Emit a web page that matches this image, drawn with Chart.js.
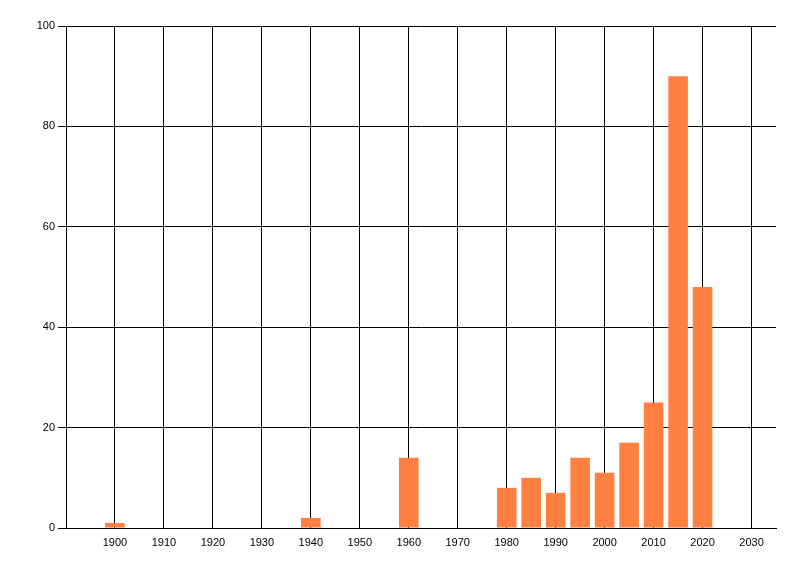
<!DOCTYPE html>
<html>
<head>
<meta charset="utf-8">
<script src="https://cdn.jsdelivr.net/npm/chart.js@4"></script>
<style>
  html, body { margin: 0; padding: 0; background: #fff; }
  #wrap { width: 800px; height: 576px; }
</style>
</head>
<body>
<div id="wrap"><canvas id="barChart"></canvas></div>
<script>
// years (bar centres) and their values
const years = [1900, 1940, 1960, 1980, 1985, 1990, 1995, 2000, 2005, 2010, 2015, 2020];
const counts = [1, 2, 14, 8, 10, 7, 14, 11, 17, 25, 90, 48];

// axis ticks
const xTicks = [1900, 1910, 1920, 1930, 1940, 1950, 1960, 1970, 1980, 1990, 2000, 2010, 2020, 2030];
const yTicks = [0, 20, 40, 60, 80, 100];

const barColor = "rgb(255, 128, 64)";
const tickFont = { family: "'Liberation Sans', Arial, sans-serif", size: 11 };

const ctx = document.getElementById("barChart").getContext("2d");

const config = {
    type: "bar",
    data: {
        datasets: [
            {
                data: years.map((y, i) => ({ x: y, y: counts[i] })),
                backgroundColor: barColor,
                borderWidth: 0,
                categoryPercentage: 1,
                barPercentage: 0.8,
            },
        ],
    },
    options: {
        responsive: true,
        maintainAspectRatio: false,
        animation: false,
        layout: { padding: { top: 26, right: 24, left: 0, bottom: 0 } },
        plugins: {
            legend: { display: false },
            tooltip: { enabled: false },
        },
        scales: {
            x: {
                type: "linear",
                min: 1890,
                max: 2035,
                offset: false,
                afterBuildTicks: (scale) => {
                    scale.ticks = xTicks.map((v) => ({ value: v }));
                },
                afterFit: (scale) => {
                    scale.height = 48;
                },
                grid: { color: "#000", lineWidth: 1, drawTicks: false, offset: false },
                border: { color: "#000", width: 1 },
                ticks: {
                    color: "#000",
                    padding: 8,
                    maxRotation: 0,
                    autoSkip: false,
                    font: tickFont,
                    callback: (v) => String(v),
                },
            },
            y: {
                min: 0,
                max: 100,
                afterBuildTicks: (scale) => {
                    scale.ticks = yTicks.map((v) => ({ value: v }));
                },
                afterFit: (scale) => {
                    scale.width = 66;
                },
                grid: { color: "#000", lineWidth: 1, tickLength: 8 },
                border: { color: "#000", width: 1 },
                ticks: {
                    color: "#000",
                    padding: 3,
                    font: tickFont,
                },
            },
        },
    },
};

const barChart = new Chart(ctx, config);
</script>
</body>
</html>
